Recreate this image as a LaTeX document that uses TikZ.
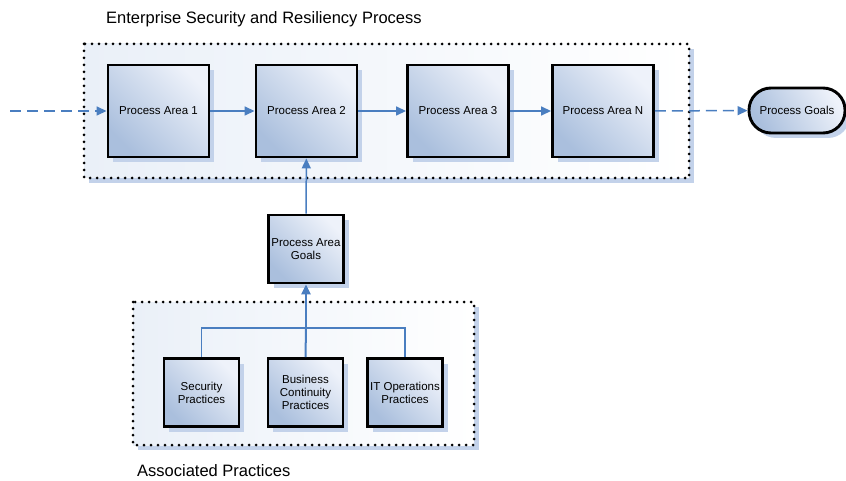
\documentclass[tikz,border=0pt]{standalone}
\usepackage{fontspec}
\setmainfont{Liberation Sans}
\usetikzlibrary{arrows.meta,shadows,positioning}
\definecolor{flow}{HTML}{4A7EC0}
\definecolor{boxlight}{HTML}{EEF2FA}
\definecolor{boxdark}{HTML}{AABFDD}
\definecolor{shade}{HTML}{C3D2EA}
\definecolor{areabg}{HTML}{EAF0F8}
\tikzset{
  x=1pt, y=-1pt,
  areabox/.style={draw=black, line width=2.9pt, minimum width=101pt, minimum height=92pt,
    shading=axis, left color=boxlight, right color=boxdark, shading angle=-45,
    drop shadow={shadow xshift=5pt, shadow yshift=-5pt, fill=shade, opacity=1},
    font=\fontsize{11.5}{13}\selectfont, align=center, inner sep=1pt},
  smallbox/.style={areabox, minimum width=75pt, minimum height=68pt},
  goalbox/.style={draw=black, line width=2.9pt, rounded corners=22pt, minimum width=96pt, minimum height=45pt,
    shading=axis, left color=boxlight, right color=boxdark, shading angle=-60,
    drop shadow={shadow xshift=5pt, shadow yshift=-5pt, fill=shade, opacity=1},
    font=\fontsize{11.5}{13}\selectfont},
  group/.style={draw=black, line width=3pt, dash pattern=on 0pt off 7pt, line cap=round,
    shading=axis, left color=areabg, right color=white, shading angle=90,
    drop shadow={shadow xshift=5pt, shadow yshift=-5pt, fill=shade, opacity=1}},
  link/.style={draw=flow, line width=1.5pt, -{Triangle[length=10pt,width=9pt]}},
  dlink/.style={link, dash pattern=on 11pt off 6pt},
  plain/.style={draw=flow, line width=1.5pt},
  title/.style={font=\fontsize{16.5}{19}\selectfont, anchor=west, inner sep=0pt}
}
\begin{document}
\begin{tikzpicture}
\useasboundingbox (0,0) rectangle (846,481);

% dotted group frames
\path[group] (84,44) rectangle (689,178);
\path[group] (133,302) rectangle (474,445);

\node[title] (ttop) at (106,19) {Enterprise Security and Resiliency Process};
\node[title] (tbot) at (137,471) {Associated Practices};

% process areas
\node[areabox] (pa1) at (158.5,111) {Process Area 1};
\node[areabox] (pa2) at (306.5,111) {Process Area 2};
\node[areabox] (pa3) at (458,111) {Process Area 3};
\node[areabox] (paN) at (603,111) {Process Area N};
\node[goalbox] (goals) at (797,110.5) {Process Goals};

\node[smallbox] (pag) at (306,249) {Process Area\\Goals};

\node[smallbox] (sec) at (201.5,392.5) {Security\\Practices};
\node[smallbox] (bcp) at (305.5,392.5) {Business\\Continuity\\Practices};
\node[smallbox] (itp) at (405,392.5) {IT Operations\\Practices};

\coordinate (start) at (10,111);
\coordinate (join) at (306,328);

% flow
\draw[dlink] (start) -- (pa1);
\draw[link] (pa1) -- (pa2);
\draw[link] (pa2) -- (pa3);
\draw[link] (pa3) -- (paN);
\draw[dlink] (paN) -- (goals);
\draw[link] (pag) -- (pa2);

% practices feeding area goals
\draw[plain] (sec.north) |- (join);
\draw[plain] (itp.north) |- (join);
\draw[plain, line width=2pt] (bcp.north) -- (join);
\draw[link, line width=2.4pt] (join) -- (pag);
\end{tikzpicture}
\end{document}
